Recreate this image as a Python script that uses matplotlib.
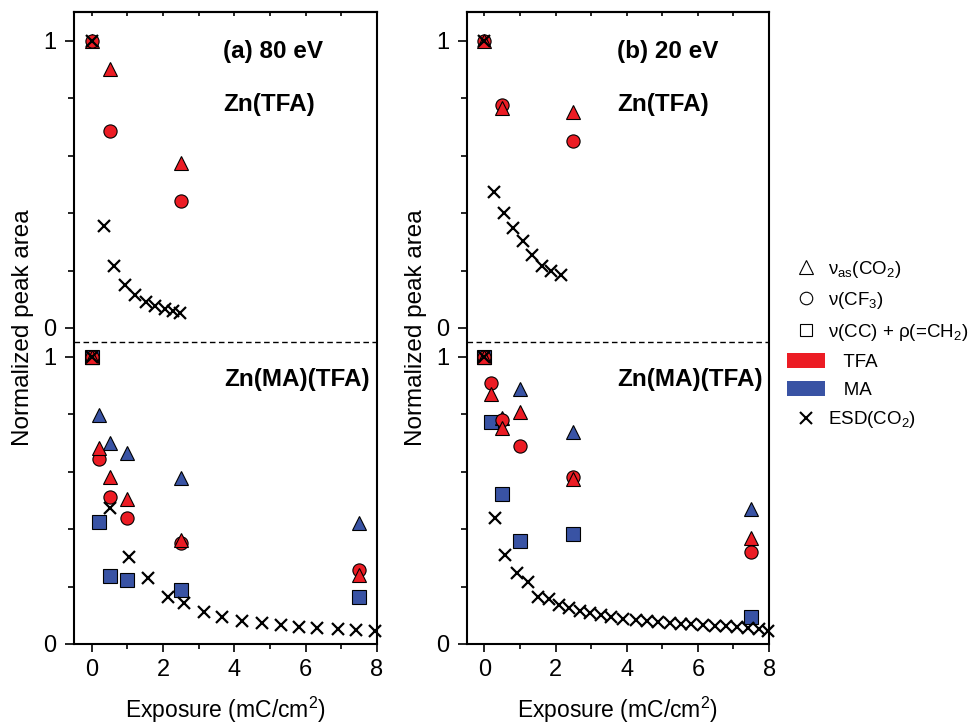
import matplotlib
matplotlib.use('Agg')
import matplotlib.pyplot as plt
from matplotlib.lines import Line2D
from matplotlib.patches import Patch
import numpy as np

plt.rcParams['font.family'] = ['Liberation Sans', 'DejaVu Sans']
plt.rcParams['mathtext.fontset'] = 'custom'
plt.rcParams['mathtext.rm'] = 'Liberation Sans'
plt.rcParams['mathtext.it'] = 'Liberation Sans:italic'
plt.rcParams['mathtext.bf'] = 'Liberation Sans:bold'

RED = '#ec1c24'
BLUE = '#3953a4'
OFFSET = 1.1  # Zn(TFA) block is stacked above the Zn(MA)(TFA) block

# ---- (a) 80 eV, Zn(TFA) ----
a_top_tri_x = [0, 0.5, 2.5]
a_top_tri_y = [1, 0.90, 0.575]
a_top_circ_x = [0, 0.5, 2.5]
a_top_circ_y = [1, 0.687, 0.443]
a_top_esd_x = [0, 0.33, 0.63, 0.93, 1.22, 1.52, 1.78, 2.05, 2.29, 2.48]
a_top_esd_y = [1, 0.355, 0.214, 0.148, 0.115, 0.090, 0.076, 0.066, 0.059, 0.053]

# ---- (a) 80 eV, Zn(MA)(TFA) ----
a_bot_tfa_tri_x = [0, 0.2, 0.5, 1, 2.5, 7.5]
a_bot_tfa_tri_y = [1, 0.681, 0.582, 0.503, 0.362, 0.24]
a_bot_tfa_circ_x = [0, 0.2, 0.5, 1, 2.5, 7.5]
a_bot_tfa_circ_y = [1, 0.643, 0.513, 0.44, 0.35, 0.258]
a_bot_ma_tri_x = [0, 0.2, 0.5, 1, 2.5, 7.5]
a_bot_ma_tri_y = [1, 0.797, 0.698, 0.666, 0.577, 0.42]
a_bot_ma_sq_x = [0, 0.2, 0.5, 1, 2.5, 7.5]
a_bot_ma_sq_y = [1, 0.423, 0.237, 0.223, 0.188, 0.165]
a_bot_esd_x = [0, 0.5, 1.05, 1.59, 2.13, 2.58, 3.14, 3.64, 4.2, 4.77, 5.3,
               5.82, 6.32, 6.9, 7.42, 7.93]
a_bot_esd_y = [1, 0.472, 0.304, 0.229, 0.165, 0.142, 0.113, 0.093, 0.080,
               0.072, 0.065, 0.060, 0.057, 0.051, 0.049, 0.045]

# ---- (b) 20 eV, Zn(TFA) ----
b_top_tri_x = [0, 0.5, 2.5]
b_top_tri_y = [1, 0.765, 0.753]
b_top_circ_x = [0, 0.5, 2.5]
b_top_circ_y = [1, 0.775, 0.65]
b_top_esd_x = [0, 0.26, 0.54, 0.80, 1.08, 1.34, 1.62, 1.88, 2.16]
b_top_esd_y = [1, 0.473, 0.401, 0.348, 0.302, 0.253, 0.216, 0.2, 0.183]

# ---- (b) 20 eV, Zn(MA)(TFA) ----
b_bot_tfa_tri_x = [0, 0.2, 0.5, 1, 2.5, 7.5]
b_bot_tfa_tri_y = [1, 0.87, 0.753, 0.809, 0.574, 0.368]
b_bot_tfa_circ_x = [0, 0.2, 0.5, 1, 2.5, 7.5]
b_bot_tfa_circ_y = [1, 0.907, 0.78, 0.69, 0.582, 0.319]
b_bot_ma_tri_x = [0, 0.5, 1, 2.5, 7.5]
b_bot_ma_tri_y = [1, 0.785, 0.887, 0.739, 0.469]
b_bot_ma_sq_x = [0, 0.2, 0.5, 1, 2.5, 7.5]
b_bot_ma_sq_y = [1, 0.774, 0.521, 0.36, 0.383, 0.093]
b_bot_esd_x = [0, 0.3, 0.59, 0.91, 1.22, 1.5, 1.81, 2.11, 2.39, 2.68, 2.96,
               3.29, 3.57, 3.9, 4.27, 4.57, 4.88, 5.21, 5.52, 5.82, 6.15,
               6.48, 6.79, 7.09, 7.42, 7.73, 7.98]
b_bot_esd_y = [1, 0.437, 0.310, 0.246, 0.217, 0.165, 0.156, 0.136, 0.124,
               0.116, 0.109, 0.101, 0.093, 0.086, 0.082, 0.079, 0.076, 0.073,
               0.070, 0.068, 0.066, 0.063, 0.061, 0.058, 0.056, 0.053, 0.045]

ytick_major = [0, 1, OFFSET, OFFSET + 1]
ytick_labels = ['0', '1', '0', '1']
ytick_minor = [0.2, 0.4, 0.6, 0.8, OFFSET + 0.2, OFFSET + 0.4, OFFSET + 0.6, OFFSET + 0.8]


def pts(ax, x, y, marker, color, ms, shift=0.0):
    ax.plot(x, np.array(y) + shift, ls='none', marker=marker, ms=ms,
            mfc=color, mec='black', mew=0.8, clip_on=False, zorder=3)


def esd(ax, x, y, shift=0.0):
    ax.plot(x, np.array(y) + shift, ls='none', marker='x', ms=9,
            mec='black', mew=1.6, clip_on=False, zorder=4)


def setup(ax, title, top_x):
    ax.set_xlim(-0.5, 8)
    ax.set_ylim(0, 2.2)
    ax.axhline(1.05, color='black', lw=1, ls=(0, (4, 2.5)))
    ax.set_yticks(ytick_major)
    ax.set_yticklabels(ytick_labels)
    ax.set_yticks(ytick_minor, minor=True)
    ax.set_xticks([0, 2, 4, 6, 8])
    ax.set_xticks([1, 3, 5, 7], minor=True)
    ax.tick_params(axis='y', which='major', length=6.5, width=1.2, pad=6, labelsize=17)
    ax.tick_params(axis='y', which='minor', length=4.5, width=1.2)
    ax.tick_params(axis='x', which='major', length=5.8, width=1.2, pad=5, labelsize=17)
    ax.tick_params(axis='x', which='minor', length=3.6, width=1.2)
    sec = ax.secondary_xaxis('top')
    sec.set_xticks(range(0, 9))
    sec.tick_params(direction='in', length=3, width=1.2, labeltop=False)
    for s in list(ax.spines.values()) + [sec.spines['top']]:
        s.set_linewidth(1.5)
    ax.set_xlabel('Exposure (mC/cm$^{2}$)', fontsize=16.5)
    ax.xaxis.label.set_va('baseline')
    ax.xaxis.set_label_coords(0.5, (644 - 718) / 632)
    ax.set_ylabel('Normalized peak area', fontsize=17.5)
    ax.yaxis.set_label_coords(-0.132, 0.5)
    ax.text(top_x, 0.937, title, transform=ax.transAxes, fontsize=17.5,
            fontweight='bold', va='center', ha='left')
    ax.text(top_x, 0.853, 'Zn(TFA)', transform=ax.transAxes, fontsize=17.5,
            fontweight='bold', va='center', ha='left')
    ax.text(0.978, 0.418, 'Zn(MA)(TFA)', transform=ax.transAxes, fontsize=17.5,
            fontweight='bold', va='center', ha='right')


fig = plt.figure(figsize=(9.76, 7.24), dpi=100)
ax_a = fig.add_axes([0.0758, 0.1105, 0.3105, 0.873])
ax_b = fig.add_axes([0.478, 0.1105, 0.310, 0.873])

# panel (a)
pts(ax_a, a_top_tri_x, a_top_tri_y, '^', RED, 10, OFFSET)
pts(ax_a, a_top_circ_x, a_top_circ_y, 'o', RED, 9.5, OFFSET)
esd(ax_a, a_top_esd_x, a_top_esd_y, OFFSET)
pts(ax_a, a_bot_ma_sq_x, a_bot_ma_sq_y, 's', BLUE, 10.5)
pts(ax_a, a_bot_ma_tri_x, a_bot_ma_tri_y, '^', BLUE, 10)
pts(ax_a, a_bot_tfa_circ_x, a_bot_tfa_circ_y, 'o', RED, 9.5)
pts(ax_a, a_bot_tfa_tri_x, a_bot_tfa_tri_y, '^', RED, 10)
esd(ax_a, a_bot_esd_x, a_bot_esd_y)
setup(ax_a, '(a) 80 eV', 0.492)

# panel (b)
pts(ax_b, b_top_circ_x, b_top_circ_y, 'o', RED, 9.5, OFFSET)
pts(ax_b, b_top_tri_x, b_top_tri_y, '^', RED, 10, OFFSET)
esd(ax_b, b_top_esd_x, b_top_esd_y, OFFSET)
pts(ax_b, b_bot_ma_sq_x, b_bot_ma_sq_y, 's', BLUE, 10.5)
pts(ax_b, b_bot_ma_tri_x, b_bot_ma_tri_y, '^', BLUE, 10)
pts(ax_b, b_bot_tfa_circ_x, b_bot_tfa_circ_y, 'o', RED, 9.5)
pts(ax_b, b_bot_tfa_tri_x, b_bot_tfa_tri_y, '^', RED, 10)
esd(ax_b, b_bot_esd_x, b_bot_esd_y)
setup(ax_b, '(b) 20 eV', 0.497)

handles = [
    Line2D([], [], ls='none', marker='^', ms=10, mfc='none', mec='black', mew=0.8),
    Line2D([], [], ls='none', marker='o', ms=9, mfc='none', mec='black', mew=0.8),
    Line2D([], [], ls='none', marker='s', ms=9, mfc='none', mec='black', mew=0.8),
    Patch(facecolor=RED, edgecolor='none'),
    Patch(facecolor=BLUE, edgecolor='none'),
    Line2D([], [], ls='none', marker='x', ms=9, mec='black', mew=1.5),
]
labels = ['\u03bd$_{\\mathrm{as}}$(CO$_{2}$)', '\u03bd(CF$_{3}$)',
          '\u03bd(CC) + \u03c1(=CH$_{2}$)', '   TFA', '   MA', 'ESD(CO$_{2}$)']
fig.legend(handles, labels, loc='upper left', bbox_to_anchor=(787 / 976, 1 - 259 / 724),
           frameon=False, fontsize=13.5, handlelength=2.05, handleheight=0.85,
           handletextpad=0.15, labelspacing=0.55, borderpad=0, borderaxespad=0)

fig.savefig('out.png', dpi=100)
